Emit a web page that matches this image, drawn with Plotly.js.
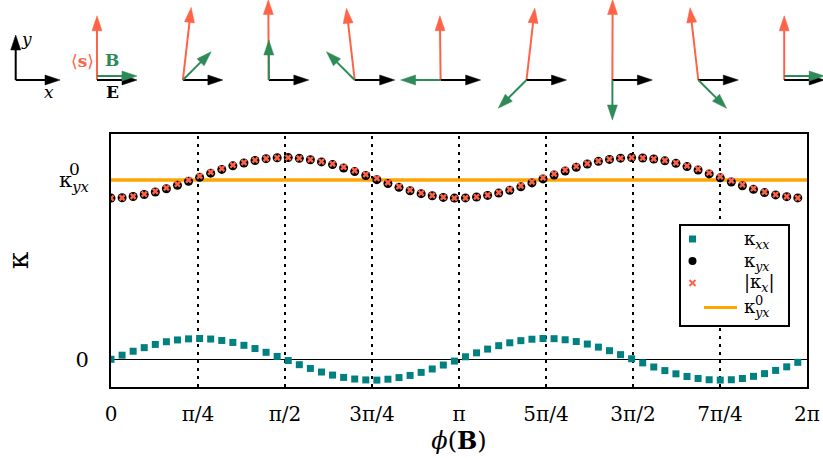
<!DOCTYPE html>
<html>
<head>
<meta charset="utf-8">
<script src="https://cdn.plot.ly/plotly-3.0.1.min.js"></script>
<style>html,body{margin:0;padding:0;background:#fff;}#chart{width:823px;height:458px;}</style>
</head>
<body>
<div id="chart"></div>
<script>
// ---- data (kappa in units of kappa0_yx) ----
const phi = [0.0,0.1,0.2,0.3,0.4,0.5,0.6,0.7,0.8,0.9,1.0,1.1,1.2,1.3,1.4,1.5,1.6,1.7,1.8,1.9,2.0,2.1,2.2,2.3,2.4,2.5,2.6,2.7,2.8,2.9,3.0,3.1,3.2,3.3,3.4,3.5,3.6,3.7,3.8,3.9,4.0,4.1,4.2,4.3,4.4,4.5,4.6,4.7,4.8,4.9,5.0,5.1,5.2,5.3,5.4,5.5,5.6,5.7,5.8,5.9,6.0,6.1,6.2];
const kappaXX = [0.000,0.023,0.045,0.065,0.083,0.098,0.108,0.114,0.116,0.113,0.105,0.094,0.078,0.060,0.039,0.016,-0.007,-0.030,-0.051,-0.071,-0.088,-0.101,-0.110,-0.115,-0.116,-0.111,-0.102,-0.090,-0.073,-0.054,-0.032,-0.010,0.014,0.036,0.057,0.076,0.092,0.104,0.112,0.116,0.115,0.109,0.099,0.085,0.068,0.048,0.026,0.003,-0.020,-0.043,-0.063,-0.081,-0.096,-0.107,-0.114,-0.116,-0.114,-0.107,-0.095,-0.080,-0.062,-0.042,-0.017];
const kappaYX = [0.899,0.901,0.908,0.919,0.933,0.951,0.971,0.993,1.015,1.038,1.059,1.079,1.095,1.109,1.119,1.124,1.125,1.121,1.113,1.101,1.086,1.067,1.047,1.025,1.002,0.980,0.959,0.940,0.924,0.912,0.903,0.899,0.900,0.905,0.914,0.927,0.943,0.962,0.984,1.006,1.028,1.050,1.071,1.089,1.104,1.115,1.122,1.125,1.123,1.117,1.107,1.093,1.075,1.056,1.034,1.012,0.989,0.968,0.948,0.930,0.917,0.907,0.900];
const kappaXAbs = [0.899,0.901,0.909,0.921,0.937,0.956,0.977,1.000,1.022,1.044,1.064,1.083,1.098,1.111,1.120,1.124,1.125,1.121,1.114,1.103,1.090,1.072,1.053,1.031,1.009,0.986,0.964,0.944,0.927,0.914,0.904,0.899,0.900,0.906,0.916,0.930,0.947,0.968,0.990,1.013,1.034,1.056,1.076,1.092,1.106,1.116,1.122,1.125,1.123,1.118,1.109,1.096,1.079,1.061,1.040,1.019,0.996,0.974,0.953,0.933,0.919,0.908,0.900];
const kappa0 = 1.0;
const xTickVals = [0, Math.PI/4, Math.PI/2, 3*Math.PI/4, Math.PI, 5*Math.PI/4, 3*Math.PI/2, 7*Math.PI/4, 2*Math.PI];
const xTickText = ['0','π/4','π/2','3π/4','π','5π/4','3π/2','7π/4','2π'];
const yTickVals = [0, kappa0];
const yTickText = ['0', 'κ<sub><i>yx</i></sub>'];
const seriesNames = ['κ<sub><i>xx</i></sub>', 'κ<sub><i>yx</i></sub>', '|κ<sub><i>x</i></sub>|', 'κ<sub><i>yx</i></sub>'];

// ---- colours / geometry ----
const C_TEAL = '#008080', C_RED = '#FF6347', C_GREEN = '#2E8B57', C_ORANGE = '#FFA500';
const FONT = 'DejaVu Serif';
const W = 823, H = 458, ML = 111, MR = 16, MT = 134, MB = 71;
const PW = W - ML - MR, PH = H - MT - MB;
const px = x => (x - ML) / PW;
const py = y => (H - MB - y) / PH;

const shapes = [];
const annotations = [];

// dotted verticals at multiples of pi/4
for (let j = 1; j < 8; j++) {
  shapes.push({type:'line', xref:'x', yref:'paper', x0:xTickVals[j], x1:xTickVals[j], y0:0, y1:1,
    layer:'below', line:{color:'black', width:2, dash:'3px,5px'}});
}

function arrow(x0, y0, x1, y1, color) {
  const dx = x1 - x0, dy = y1 - y0, L = Math.hypot(dx, dy);
  const ux = dx / L, uy = dy / L;
  const hl = 15, hw = 5;
  const bx = x1 - ux * hl, by = y1 - uy * hl;
  shapes.push({type:'line', xref:'paper', yref:'paper', x0:px(x0), y0:py(y0), x1:px(bx + ux*2), y1:py(by + uy*2),
    line:{color:color, width:2}});
  const nx = -uy, ny = ux;
  const path = `M${px(x1)},${py(y1)} L${px(bx + nx*hw)},${py(by + ny*hw)} L${px(bx - nx*hw)},${py(by - ny*hw)} Z`;
  shapes.push({type:'path', xref:'paper', yref:'paper', path:path, fillcolor:color, line:{color:color, width:0.5}});
}

function label(xp, yp, text, size, color) {
  annotations.push({xref:'paper', yref:'paper', x:px(xp), y:py(yp), xanchor:'center', yanchor:'middle',
    text:text, showarrow:false, font:{family:FONT, size:size, color:color}});
}

// axis key
arrow(15.7, 80, 60, 80, 'black');
arrow(15.7, 80, 15.7, 35, 'black');
label(26, 39, '<i>y</i>', 17, 'black');
label(49, 92, '<i>x</i>', 17, 'black');

// direction diagrams for phi = j*pi/4
const redScale = 71.5, greenLen = 40, eLen = 40;
for (let j = 0; j <= 8; j++) {
  const ang = j * Math.PI / 4;
  const ox = 97 + 85.9 * j, oy = 80;
  const a = ang % (2 * Math.PI);
  let k = 0, best = 1e9;
  phi.forEach((p, i) => { const d = Math.abs(p - a); if (d < best) { best = d; k = i; } });
  arrow(ox, oy, ox + kappaXX[k] * redScale, oy - kappaYX[k] * redScale, C_RED);
  arrow(ox, oy, ox + eLen, oy, 'black');
  const off = (j === 0 || j === 8) ? -4 : 0;
  arrow(ox, oy + off, ox + greenLen * Math.cos(ang), oy + off - greenLen * Math.sin(ang), C_GREEN);
}
label(82, 61, '⟨<b>s</b>⟩', 17, C_RED);
label(112, 60, '<b>B</b>', 17, C_GREEN);
label(112, 92, '<b>E</b>', 17, 'black');

// superscript 0 of the kappa0 tick label
annotations.push({xref:'paper', yref:'y', x:px(74), y:kappa0, yshift:11, xanchor:'center', yanchor:'middle',
  text:'0', showarrow:false, font:{family:FONT, size:17, color:'black'}});

// manual legend
const LX0 = 680, LX1 = 789, LY0 = 225, LY1 = 326, SX = 692.5, TX = 742;
shapes.push({type:'rect', xref:'paper', yref:'paper', x0:px(LX0), x1:px(LX1), y0:py(LY0), y1:py(LY1),
  fillcolor:'white', line:{color:'black', width:2}, layer:'above'});
shapes.push({type:'rect', xref:'paper', yref:'paper', x0:px(SX-3.5), x1:px(SX+3.5), y0:py(239-3.5), y1:py(239+3.5),
  fillcolor:C_TEAL, line:{width:0}, layer:'above'});
shapes.push({type:'circle', xref:'paper', yref:'paper', x0:px(SX-4), x1:px(SX+4), y0:py(261-4), y1:py(261+4),
  fillcolor:'black', line:{width:0}, layer:'above'});
shapes.push({type:'line', xref:'paper', yref:'paper', x0:px(SX-3), x1:px(SX+3), y0:py(283-3), y1:py(283+3),
  line:{color:C_RED, width:2}, layer:'above'});
shapes.push({type:'line', xref:'paper', yref:'paper', x0:px(SX-3), x1:px(SX+3), y0:py(283+3), y1:py(283-3),
  line:{color:C_RED, width:2}, layer:'above'});
shapes.push({type:'line', xref:'paper', yref:'paper', x0:px(704), x1:px(737), y0:py(307.5), y1:py(307.5),
  line:{color:C_ORANGE, width:3}, layer:'above'});
const legendY = [240, 262, 283, 308];
seriesNames.forEach((t, i) => {
  annotations.push({xref:'paper', yref:'paper', x:px(TX), y:py(legendY[i]), xanchor:'left', yanchor:'middle',
    text:t, showarrow:false, font:{family:FONT, size:18, color:'black'}});
});
label(759, 300, '0', 13, 'black');

const traces = [
  {x:phi, y:kappaXX, type:'scatter', mode:'markers', name:seriesNames[0],
   marker:{symbol:'square', size:7, color:C_TEAL, line:{width:0}}},
  {x:[0, 2*Math.PI], y:[kappa0, kappa0], type:'scatter', mode:'lines', name:seriesNames[3],
   line:{color:C_ORANGE, width:3.5}},
  {x:phi, y:kappaYX, type:'scatter', mode:'markers', name:seriesNames[1],
   marker:{symbol:'circle', size:9, color:'black', line:{width:0}}},
  {x:phi, y:kappaXAbs, type:'scatter', mode:'markers', name:seriesNames[2],
   marker:{symbol:'x', size:6, color:C_RED, line:{width:0}}}
];

const layout = {
  width:W, height:H,
  margin:{l:ML, r:MR, t:MT, b:MB, pad:0},
  paper_bgcolor:'white', plot_bgcolor:'white',
  showlegend:false,
  font:{family:FONT, color:'black'},
  xaxis:{range:[0, 2*Math.PI], tickvals:xTickVals, ticktext:xTickText, showgrid:false, zeroline:false,
    showline:true, mirror:true, linecolor:'black', linewidth:2, ticks:'', ticklabelstandoff:8,
    tickfont:{family:FONT, size:20, color:'black'},
    title:{text:'<i>ϕ</i>(<b>B</b>)', font:{family:FONT, size:24, color:'black'}, standoff:6}},
  yaxis:{range:[-0.1545, 1.2566], tickvals:yTickVals, ticktext:yTickText, showgrid:false,
    zeroline:true, zerolinecolor:'black', zerolinewidth:1.5,
    showline:true, mirror:true, linecolor:'black', linewidth:2, ticks:'', ticklabelstandoff:16,
    tickfont:{family:FONT, size:21, color:'black'},
    title:{text:'κ', font:{family:FONT, size:28, color:'black'}, standoff:22}},
  shapes:shapes,
  annotations:annotations
};

Plotly.newPlot('chart', traces, layout, {staticPlot:true, displayModeBar:false});
</script>
</body>
</html>
